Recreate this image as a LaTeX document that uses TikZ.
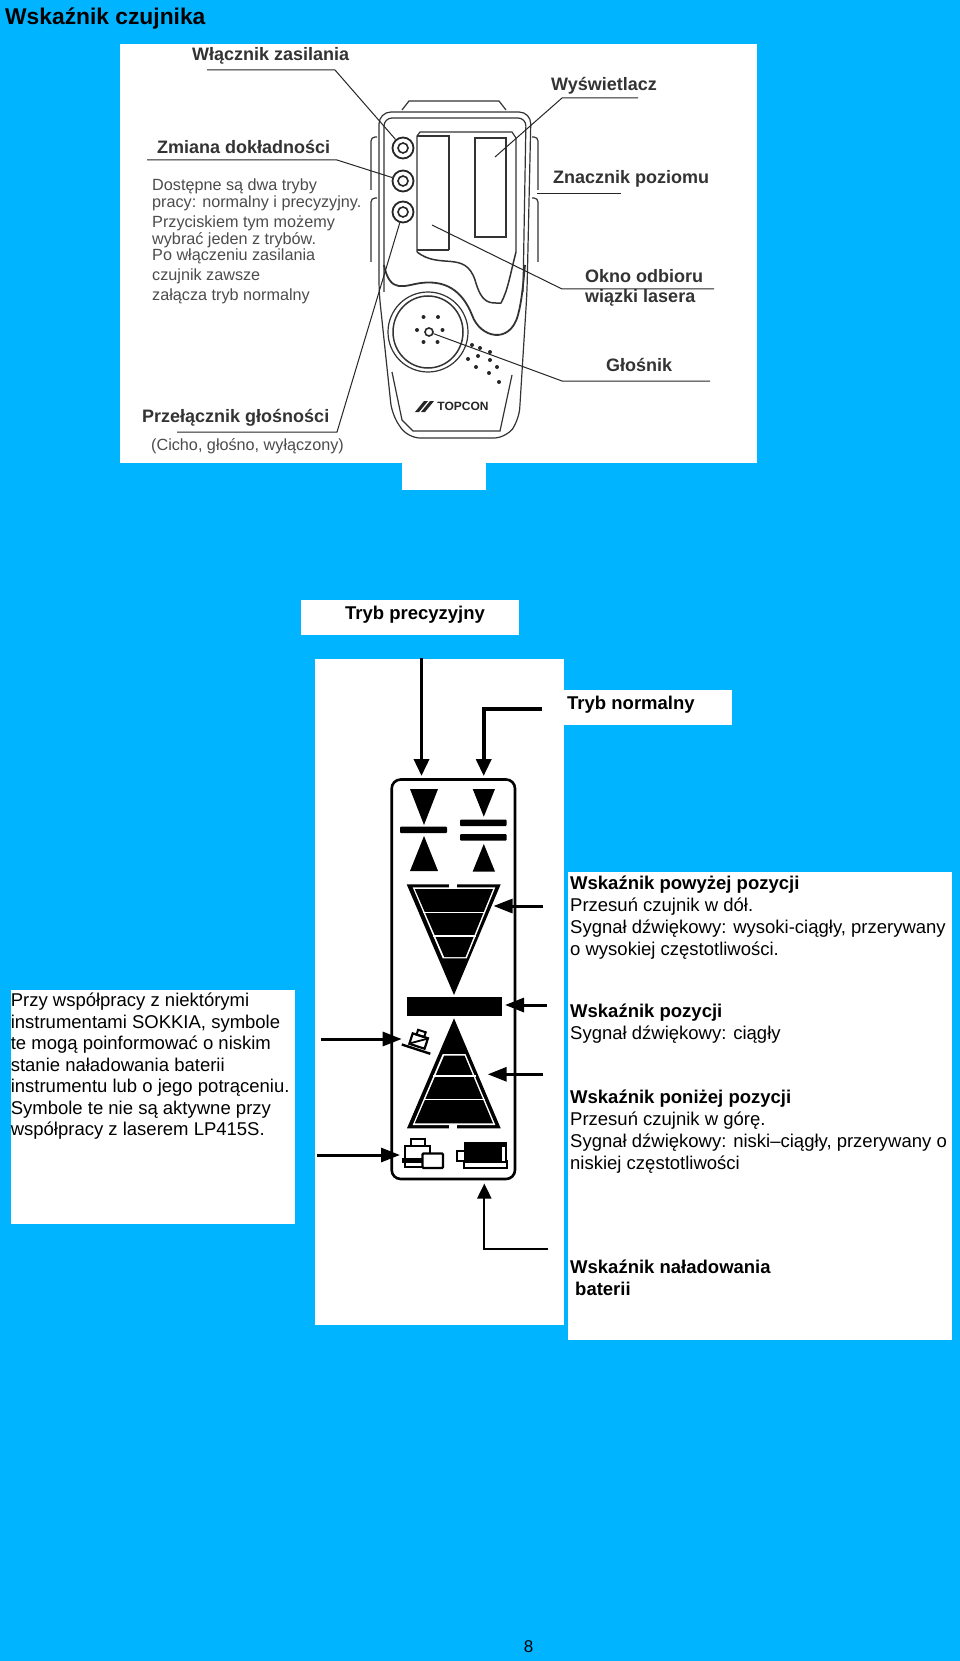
\documentclass[tikz,border=0pt]{standalone}
\usepackage{fontspec}
\setmainfont{Liberation Sans}
\usetikzlibrary{arrows.meta,positioning,calc}
\definecolor{bgblue}{RGB}{0,180,255}
\tikzset{box/.style={fill=white,draw=none},
 txt/.style={anchor=north west,inner sep=0pt,align=left,font=\fontsize{18.5}{21.8}\selectfont},
 lab/.style={anchor=west,inner sep=0pt,text=black!80,font=\fontsize{18}{20}\selectfont\bfseries},
 note/.style={anchor=west,inner sep=0pt,text=black!70,font=\fontsize{16.2}{18}\selectfont},
 lead/.style={draw=black!85,line width=1pt},
 dev/.style={draw=black!80,line width=1.2pt},
 btn/.style={circle,draw=black!85,line width=1.8pt,minimum size=21pt,inner sep=0pt},
 flow/.style={-{Triangle[length=17pt,width=15pt]},line width=3.6pt},
 flowb/.style={-{Triangle[length=19pt,width=14pt]},line width=3pt},
 flowc/.style={-{Triangle[length=15pt,width=14pt]},line width=2pt},
 frm/.style={draw=black,line width=2.6pt,rounded corners=9pt}}
\begin{document}
\begin{tikzpicture}[x=1pt,y=-1pt]
\useasboundingbox (0,0) rectangle (960,1661);
\fill[bgblue] (0,0) rectangle (960,1661);
\node[anchor=west,inner sep=0pt,font=\fontsize{22.8}{25}\selectfont\bfseries](title) at(5,19){Wskaźnik czujnika};
% white panels
\fill[box](120,44.5) rectangle (757,463);
\fill[box](402,463) rectangle (486,490);
\fill[box](301,600) rectangle (519,635);
\fill[box](315,659) rectangle (564,1325);
\fill[box](564,690) rectangle (732,725);
\fill[box](568,872) rectangle (952,1340);
\fill[box](10.5,990) rectangle (294.5,1224);
\node[anchor=center,inner sep=0pt,font=\fontsize{18.5}{21}\selectfont\bfseries](prec) at(415,614.5){Tryb precyzyjny};
\node[anchor=west,inner sep=0pt,font=\fontsize{18.5}{21}\selectfont\bfseries](norm) at(567,704.5){Tryb normalny};
% device outline
\draw[dev,rounded corners=12pt](379,292)--(379,112)--(531,112)--(527,292)--(519,420)--(506,438)--(408,438)--(392,415)--cycle;
\draw[dev,rounded corners=8pt](384,292)--(384,118)--(526,118)--(523,292);
\draw[dev](402,110)--(409,101)--(499,101)--(506,110);
\draw[dev,rounded corners=4pt](371,190)--(371,137)--(377,137);
\draw[dev,rounded corners=4pt](371,262)--(371,198)--(377,198);
\draw[dev,rounded corners=4pt](538,190)--(538,137)--(532,137);
\draw[dev,rounded corners=4pt](538,262)--(538,198)--(532,198);
% display window
\draw[dev](417,252)--(417,136)--(420,132)--(512,132)--(516,138)--(516,252);
\draw[dev,line width=1.6pt](449,250)--(449,136)--(417,136);
\draw[dev](417,250)--(449,250);
\draw[dev,line width=1.3pt](475,138) rectangle (506,237);
\draw[dev,line width=1.5pt](417,252) .. controls (440,270) and (465,250) .. (475,280) .. controls (482,305) and (490,303) .. (501,303) .. controls (508,290) and (510,275) .. (516,252);
\draw[dev,line width=1.8pt](384,265) .. controls (390,295) and (405,285) .. (421,283) .. controls (445,280) and (462,290) .. (472,315) .. controls (480,338) and (510,345) .. (518,315) .. controls (522,300) and (523,285) .. (525,265);
% speaker
\draw[dev,line width=1.5pt](428,332) ellipse (35pt and 36pt);
\draw[dev](428,332) ellipse (40pt and 40pt);
\draw[dev](392,372)--(402,420)--(413,431)--(500,431)--(512,375);
\node[circle,draw=black!85,line width=1.6pt,minimum size=8pt,inner sep=0pt](spk) at(429,332){};
\foreach \x/\y in {423.5/317,438/317,417/330,442.5/330,423.5/342,437.5/342,
  472/345,480/348,490/352,468/359,478/356,490/360,476/367,497/367,489/373,499/382}
 \fill[black!85](\x,\y) circle (2pt);
\node[anchor=center,inner sep=0pt,font=\fontsize{12}{13}\selectfont\bfseries,text=black!85](topc) at(463,406){TOPCON};
\fill[black!85](415,412)--(424,401)--(428,401)--(419,412)--cycle;
\fill[black!85](421,412)--(430,401)--(434,401)--(425,412)--cycle;
% buttons
\foreach \i/\y in {1/148,2/181,3/212}{
 \node[btn](b\i) at(403,\y){};
 \draw[black!85,line width=1.6pt](b\i.center) circle (5pt);}
% labels
\node[lab](wl) at(192,56){Włącznik zasilania};
\node[lab](wy) at(551,86){Wyświetlacz};
\node[lab](zm) at(157,147){Zmiana dokładności};
\node[lab](zn) at(553,179){Znacznik poziomu};
\node[lab](ok) at(585,276){Okno odbioru};
\node[lab](wi) at(585,298){wiązki lasera};
\node[lab](gl) at(606,365){Głośnik};
\node[lab](pr) at(142,418){Przełącznik głośności};
\node[note](ci) at(151,446){(Cicho, głośno, wyłączony)};
\foreach \k/\y/\t in {a/186/Dostępne są dwa tryby,b/203/{pracy: normalny i precyzyjny.},c/223/Przyciskiem tym możemy,d/240.5/wybrać jeden z trybów.,e/256.5/Po włączeniu zasilania,f/276/czujnik zawsze,g/296/załącza tryb normalny}
 \node[note](d\k) at(152,\y){\t};
% leaders
\coordinate(wa) at(207,70);\coordinate(wb) at(335,70);
\draw[lead](wa)--(wb)--(b1);
\coordinate(za) at(147,160);\coordinate(zb) at(337,160);
\draw[lead](za)--(zb)--(b2);
\coordinate(ya) at(638,98);\coordinate(yb) at(562,98);\coordinate(yc) at(495,157);
\draw[lead](ya)--(yb)--(yc);
\coordinate(na) at(621,194);\coordinate(nb) at(537,194);
\draw[lead](na)--(nb);
\coordinate(oa) at(714,289);\coordinate(ob) at(562,289);\coordinate(oc) at(432,225);
\draw[lead](oa)--(ob)--(oc);
\coordinate(ga) at(710,381);\coordinate(gb) at(562,381);
\draw[lead](ga)--(gb)--(spk);
\coordinate(pa) at(177,432);\coordinate(pb) at(337,432);
\draw[lead](pa)--(pb)--(b3);
% indicator frame
\draw[frm](391.7,779.5) rectangle (515,1179);
\coordinate(ta) at(421.5,658);\coordinate(tb) at(421.5,776);
\draw[flow](ta)--(tb);
\coordinate(na1) at(541.7,709);\coordinate(na2) at(483.7,709);\coordinate(na3) at(483.7,776);
\draw[flow](na1)--(na2)--(na3);
% small markers
\fill(410,789)--(438,789)--(424,825)--cycle;
\fill(410,871)--(438,871)--(424,836)--cycle;
\fill[rounded corners=1pt](400,826.5) rectangle (447,833);
\fill(472.7,789)--(495,789)--(483.8,816.7)--cycle;
\fill(472.7,871.5)--(495,871.5)--(483.8,844)--cycle;
\fill[rounded corners=1pt](460,819.5) rectangle (506.7,826);
\fill[rounded corners=1pt](460,834) rectangle (506.7,840.7);
% upper wedge
\fill(406.7,884.3)--(500.7,884.3)--(454,995)--cycle;
\fill[white](412.7,887.3)--(495.3,887.3)--(466.7,958.3)--(442.7,958.3)--cycle;
\fill(414.8,889)--(493,889)--(465.5,957)--(444.2,957)--cycle;
\fill[white](449,883.5) rectangle (457,887.5);
\draw[white,line width=1.2pt](423.3,912.5)--(485.2,912.5) (433.3,936)--(475.7,936);
% bar
\fill(406.7,997.3) rectangle (501.7,1015.7);
% lower wedge
\fill(407,1128.3)--(500.7,1128.3)--(454,1018.3)--cycle;
\fill[white](412.7,1125)--(495.3,1125)--(465.5,1054)--(442.7,1054)--cycle;
\fill(414.8,1123.3)--(493,1123.3)--(464.5,1055.5)--(444.2,1055.5)--cycle;
\fill[white](449,1125) rectangle (457,1129);
\draw[white,line width=1.2pt](433.4,1076)--(475.6,1076) (423.6,1099.3)--(484.9,1099.3);
% tilt icon
\begin{scope}[shift={(418.5,1041.5)},rotate=-18]
\draw[line width=2.2pt](-8,-6) rectangle (8,5);
\draw[line width=2pt](-4,-6) rectangle (4,-11);
\draw[line width=2.4pt](-15,8)--(15,8);
\draw[line width=1.8pt](-7,4)--(7,-5);
\end{scope}
% instrument icon
\draw[line width=1.8pt](411,1139) rectangle (425,1145.7);
\draw[line width=2pt](405,1145.7) rectangle (430,1166.7);
\fill(401.7,1158) rectangle (421.7,1163);
\draw[line width=2.4pt,fill=white,rounded corners=1pt](422.5,1153.5) rectangle (443,1168);
% battery
\draw[line width=2.2pt](464,1150.7)--(457,1150.7)--(457,1160.7)--(464,1160.7);
\fill(464,1142.3) rectangle (506.7,1163);
\fill[white](502,1147) rectangle (505,1161);
\draw[line width=1.8pt](464,1162)--(464,1168)--(506.7,1168)--(506.7,1160);
% side arrows
\coordinate(r1a) at(543.3,906);\coordinate(r1b) at(493.5,906);
\draw[flowb](r1a)--(r1b);
\coordinate(r2a) at(546.7,1005);\coordinate(r2b) at(505,1005);
\draw[flowb](r2a)--(r2b);
\coordinate(r3a) at(543.3,1074.3);\coordinate(r3b) at(487.7,1074.3);
\draw[flowb](r3a)--(r3b);
\coordinate(l1a) at(320.7,1039);\coordinate(l1b) at(401.7,1039);
\draw[flowb](l1a)--(l1b);
\coordinate(l2a) at(317.3,1155);\coordinate(l2b) at(400,1155);
\draw[flowb](l2a)--(l2b);
\coordinate(ba) at(548.3,1249);\coordinate(bb) at(484.3,1249);\coordinate(bc) at(484.3,1183.5);
\draw[flowc](ba)--(bb)--(bc);
% texts
\node[txt](tup) at(570,876){\textbf{Wskaźnik powyżej pozycji}\\Przesuń czujnik w dół.\\Sygnał dźwiękowy: wysoki-ciągły, przerywany\\o wysokiej częstotliwości.};
\node[txt](tmid) at(570,1004){\textbf{Wskaźnik pozycji}\\Sygnał dźwiękowy: ciągły};
\node[txt](tlow) at(570,1090){\textbf{Wskaźnik poniżej pozycji}\\Przesuń czujnik w górę.\\Sygnał dźwiękowy: niski--ciągły, przerywany o\\niskiej częstotliwości};
\node[txt](tbat) at(570,1260){\textbf{Wskaźnik naładowania}\\\hspace*{5pt}\textbf{baterii}};
\node[txt,font=\fontsize{18.5}{21.5}\selectfont](tleft) at(10.6,993){Przy współpracy z niektórymi\\instrumentami SOKKIA, symbole\\te mogą poinformować o niskim\\stanie naładowania baterii\\instrumentu lub o jego potrąceniu.\\Symbole te nie są aktywne przy\\współpracy z laserem LP415S.};
\node[anchor=center,inner sep=0pt,font=\fontsize{17}{18}\selectfont](pnum) at(528.5,1647){8};
\end{tikzpicture}
\end{document}
